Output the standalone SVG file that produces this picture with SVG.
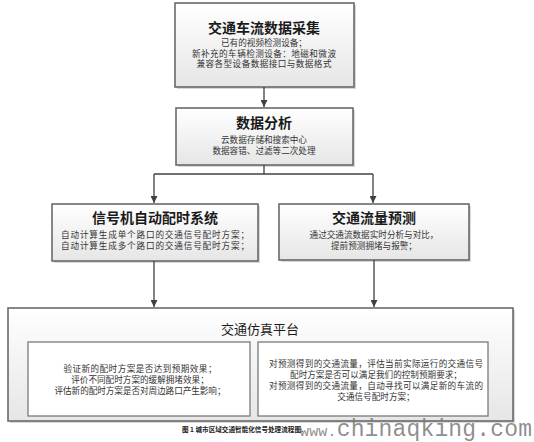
<svg xmlns="http://www.w3.org/2000/svg" width="534" height="442" viewBox="0 0 534 442">
<defs>
<linearGradient id="g" x1="0" y1="0" x2="0" y2="1">
<stop offset="0" stop-color="#ffffff"/>
<stop offset="1" stop-color="#e6e6e6"/>
</linearGradient>
<marker id="arr" viewBox="0 0 10 10" refX="10" refY="5" markerWidth="7" markerHeight="7" markerUnits="userSpaceOnUse" orient="auto">
<path d="M0,0 L10,5 L0,10 z" fill="#404040"/>
</marker>
</defs>
<style>
.box{fill:url(#g);stroke:#6a6a6a;stroke-width:1.6}
.shadow{fill:#d8d8d8}
.inner{fill:#ffffff;stroke:#7a7a7a;stroke-width:1.3}
.t{font-family:"Noto Sans CJK SC","Liberation Sans",sans-serif;text-anchor:middle;fill:#1a1a1a}
.h{font-size:14px;font-weight:bold}
.b{font-size:8.6px;fill:#333}
.c{stroke:#404040;stroke-width:1.3;fill:none}
</style>
<rect width="534" height="442" fill="#ffffff"/>

<g id="node-collect">
<rect class="shadow" x="177" y="5" width="179" height="84"/>
<rect class="box" x="175" y="3" width="179" height="84"/>
<text class="t h" x="264" y="33">交通车流数据采集</text>
<text class="t b" x="264" y="46">已有的视频检测设备；</text>
<text class="t b" x="264" y="56.5" textLength="144">新补充的车辆检测设备：地磁和微波</text>
<text class="t b" x="264" y="67" textLength="135">兼容各型设备数据接口与数据格式</text>
</g>

<g id="node-analysis">
<rect class="shadow" x="178" y="110" width="177" height="57"/>
<rect class="box" x="176" y="108" width="177" height="57"/>
<text class="t h" x="264" y="128">数据分析</text>
<text class="t b" x="264" y="143">云数据存储和搜索中心</text>
<text class="t b" x="264" y="154">数据容错、过滤等二次处理</text>
</g>

<g id="node-signal">
<rect class="shadow" x="54" y="206" width="206" height="57"/>
<rect class="box" x="52" y="204" width="206" height="57"/>
<text class="t h" x="155" y="222.5">信号机自动配时系统</text>
<text class="t b" x="155" y="237.5" textLength="188">自动计算生成单个路口的交通信号配时方案；</text>
<text class="t b" x="155" y="248.5" textLength="188">自动计算生成多个路口的交通信号配时方案；</text>
</g>

<g id="node-forecast">
<rect class="shadow" x="281" y="206" width="190" height="56"/>
<rect class="box" x="279" y="204" width="190" height="56"/>
<text class="t h" x="374" y="222.5">交通流量预测</text>
<text class="t b" x="374" y="237.5">通过交通流数据实时分析与对比，</text>
<text class="t b" x="374" y="248.5">提前预测拥堵与报警；</text>
</g>

<g id="node-sim">
<rect class="shadow" x="10" y="310" width="505" height="113"/>
<rect class="box" x="8" y="308" width="505" height="113"/>
<text class="t" x="260" y="334" font-size="13">交通仿真平台</text>
<rect class="inner" x="28" y="342" width="222" height="74"/>
<rect class="inner" x="258" y="342" width="230" height="74"/>
<text class="t b" x="140" y="372" textLength="153">验证新的配时方案是否达到预期效果；</text>
<text class="t b" x="140" y="383">评价不同配时方案的缓解拥堵效果；</text>
<text class="t b" x="140" y="394" textLength="171">评估新的配时方案是否对周边路口产生影响；</text>
<text class="t b" x="376" y="367" textLength="214">对预测得到的交通流量，评估当前实际运行的交通信号</text>
<text class="t b" x="376" y="378">配时方案是否可以满足我们的控制预期要求；</text>
<text class="t b" x="376" y="389" textLength="214">对预测得到的交通流量，自动寻找可以满足新的车流的</text>
<text class="t b" x="376" y="400">交通信号配时方案；</text>
</g>

<g id="connectors">
<line class="c" x1="264" y1="87" x2="264" y2="107" marker-end="url(#arr)"/>
<polyline class="c" points="264,165 264,174"/>
<polyline class="c" points="154,174 373,174"/>
<line class="c" x1="154" y1="174" x2="154" y2="203" marker-end="url(#arr)"/>
<line class="c" x1="373" y1="174" x2="373" y2="203" marker-end="url(#arr)"/>
<line class="c" x1="154" y1="261" x2="154" y2="307" marker-end="url(#arr)"/>
<line class="c" x1="374" y1="260" x2="374" y2="307" marker-end="url(#arr)"/>
</g>

<g id="caption">
<text x="182" y="432" font-family="Noto Sans CJK SC, Liberation Sans, sans-serif" font-size="6.6" font-weight="bold" fill="#222">图 1  城市区域交通智能化信号处理流程图.</text>
<text x="300" y="436" font-family="Liberation Mono, monospace" fill="#7a7a7a" fill-opacity="0.85" textLength="232" lengthAdjust="spacing"><tspan font-size="15">www.</tspan><tspan font-size="23">chinaqking.com</tspan></text>
</g>
</svg>
